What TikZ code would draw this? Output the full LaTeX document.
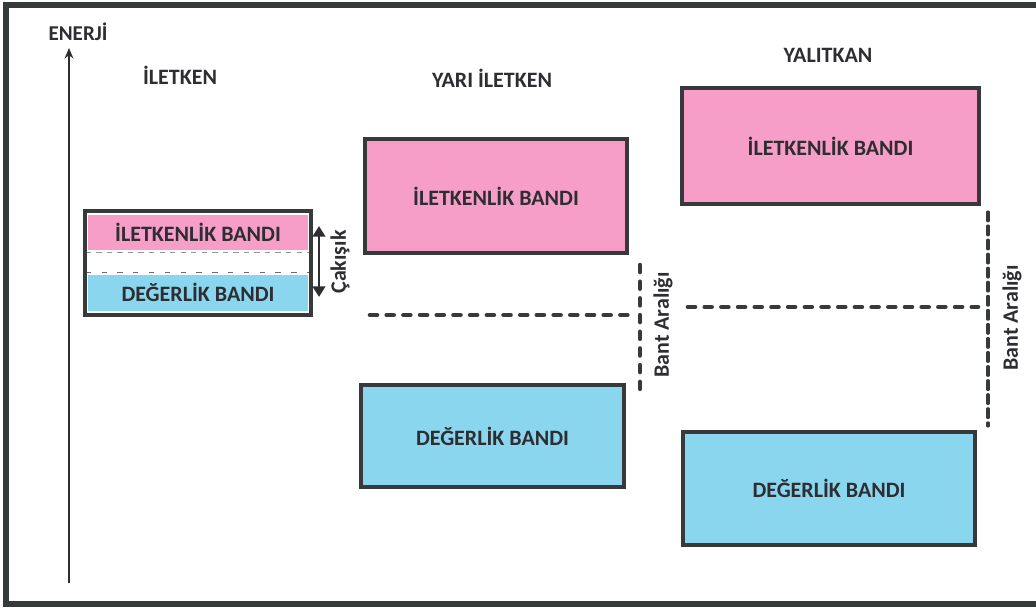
\documentclass[tikz,border=0pt]{standalone}
\usepackage{fontspec}
\setmainfont{Carlito}
\usetikzlibrary{arrows.meta}
\definecolor{condpink}{RGB}{246,158,200}
\definecolor{valblue}{RGB}{138,214,238}
\definecolor{edge}{RGB}{55,58,58}
\definecolor{ink}{RGB}{45,45,50}
\tikzset{
    box/.style={draw=edge, line width=2.6pt, inner sep=0pt, align=center,
                text=ink, font=\bfseries\fontsize{12.5}{14}\selectfont},
    cband/.style={box, fill=condpink},
    vband/.style={box, fill=valblue},
    title/.style={text=ink, font=\bfseries\fontsize{12.5}{14}\selectfont},
    gap/.style={draw=edge, line width=2.6pt, dash pattern=on 4pt off 5.5pt,
                line cap=round},
    note/.style={text=ink, font=\bfseries\fontsize{12.5}{14}\selectfont,
                 rotate=90},
}
\begin{document}
\begin{tikzpicture}[x=0.02cm, y=-0.02cm]
    \path[use as bounding box] (0,0) rectangle (1036,609);

    % outer frame
    \draw[edge, line width=3pt] (1040,5) -- (6,5) -- (6,604) -- (1040,604);

    % energy axis
    \coordinate (axisbot) at (69,583);
    \node[title, font=\bfseries\fontsize{12}{14}\selectfont] (enerji) at (78,32) {ENERJİ};
    \draw[ink, line width=1.3pt, -{Stealth[length=6pt,width=5pt]}] (axisbot) -- (69,48);

    % titles
    \node[title] (titlecond) at (180,75) {İLETKEN};
    \node[title] (titlesemi) at (492,78) {YARI İLETKEN};
    \node[title] (titleins) at (828,55) {YALITKAN};

    % conductor
    \node[box, draw=none, fill=condpink, minimum width=4.4cm, minimum height=0.7cm,
          text depth=0pt, anchor=north] (condcb) at (198,213) {İLETKENLİK BANDI};
    \node[box, draw=none, fill=valblue, minimum width=4.4cm, minimum height=0.72cm,
          anchor=south] (condvb) at (198,313) {DEĞERLİK BANDI};
    \draw[ink!50, dashed, line width=0.4pt] (condcb.south west) -- (condcb.south east);
    \draw[ink!70, dash pattern=on 3pt off 6pt, line width=0.8pt] (condvb.north west) -- (condvb.north east);
    \node[box, minimum width=4.52cm, minimum height=2.08cm] (cond) at (198,263) {};

    \coordinate (overtop) at (319,226);
    \coordinate (overbot) at (319,297);
    \draw[ink, line width=1.6pt, {Triangle[length=6pt,width=7pt]}-{Triangle[length=6pt,width=7pt]}] (overtop) -- (overbot);
    \node[note] (cakisik) at (340,262) {Çakışık};

    % semiconductor
    \node[cband, minimum width=5.24cm, minimum height=2.28cm] (semicb) at (496,196) {İLETKENLİK BANDI};
    \node[vband, minimum width=5.26cm, minimum height=2.04cm] (semivb) at (492.5,436) {DEĞERLİK BANDI};
    \coordinate (semimidL) at (370,315);
    \coordinate (semimidR) at (633,315);
    \coordinate (semigapT) at (640,265);
    \coordinate (semigapB) at (640,390);
    \draw[gap] (semimidL) -- (semimidR);
    \draw[gap] (semigapT) -- (semigapB);
    \node[note] (semigap) at (663,325) {Bant Aralığı};

    % insulator
    \node[cband, minimum width=5.94cm, minimum height=2.32cm] (inscb) at (830.5,146) {İLETKENLİK BANDI};
    \node[vband, minimum width=5.84cm, minimum height=2.26cm] (insvb) at (829,488.5) {DEĞERLİK BANDI};
    \coordinate (insmidL) at (688,307);
    \coordinate (insmidR) at (978,307);
    \coordinate (insgapT) at (988,212);
    \coordinate (insgapB) at (988,426);
    \draw[gap] (insmidL) -- (insmidR);
    \draw[gap, line width=1.8pt, dash pattern=on 5pt off 3pt] (insgapT) -- (insgapB);
    \node[note] (insgap) at (1012,318) {Bant Aralığı};

\end{tikzpicture}
\end{document}
